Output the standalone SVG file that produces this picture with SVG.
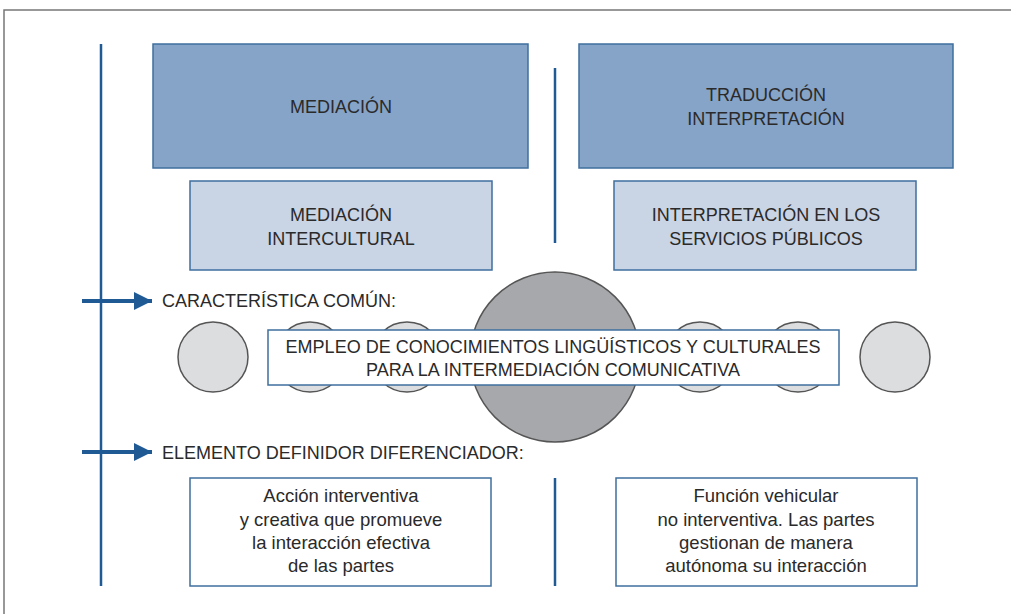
<svg xmlns="http://www.w3.org/2000/svg" width="1011" height="614" viewBox="0 0 1011 614">
<style>
.t{font-family:"Liberation Sans",Arial,sans-serif;font-size:18px;fill:#2a2a2a;text-anchor:middle}
.s{font-size:18.5px}
.l{text-anchor:start}
.dark{fill:#86a4c8;stroke:#3e6f9e;stroke-width:1.5}
.light{fill:#c9d4e5;stroke:#3e6f9e;stroke-width:1.5}
.white{fill:#fff;stroke:#3e6f9e;stroke-width:1.5}
.sc{fill:#dcdddf;stroke:#555;stroke-width:1.5}
.vl{stroke:#1f5a94;stroke-width:2.5}
.ar{stroke:#1f5a94;stroke-width:4}
</style>
<defs>
<marker id="ah" viewBox="0 0 10 10" refX="10" refY="5" markerWidth="5" markerHeight="4.5" markerUnits="strokeWidth" orient="auto"><path d="M0,0 L10,5 L0,10 Z" fill="#1f5a94"/></marker>
</defs>
<rect x="0" y="0" width="1011" height="614" fill="#fff"/>
<rect x="4" y="10" width="1020" height="620" fill="none" stroke="#777" stroke-width="1.5"/>
<g id="connectors">
<line class="vl" x1="101" y1="44" x2="101" y2="586"/>
<line class="vl" x1="555" y1="68" x2="555" y2="243"/>
<line class="vl" x1="555" y1="478" x2="555" y2="586"/>
<line class="ar" x1="82" y1="301" x2="152" y2="301" marker-end="url(#ah)"/>
<line class="ar" x1="82" y1="452" x2="152" y2="452" marker-end="url(#ah)"/>
</g>
<g id="mediacion"><rect class="dark" x="153" y="44" width="375" height="124"/><text class="t" x="341" y="113">MEDIACIÓN</text></g>
<g id="traduccion"><rect class="dark" x="579" y="44" width="374" height="124"/><text class="t" x="766" y="101">TRADUCCIÓN</text><text class="t" x="766" y="125">INTERPRETACIÓN</text></g>
<g id="mediacion-intercultural"><rect class="light" x="190" y="181" width="302" height="89"/><text class="t" x="341" y="221">MEDIACIÓN</text><text class="t" x="341" y="245">INTERCULTURAL</text></g>
<g id="isp"><rect class="light" x="614" y="181" width="302" height="89"/><text class="t" x="766" y="221">INTERPRETACIÓN EN LOS</text><text class="t" x="766" y="245">SERVICIOS PÚBLICOS</text></g>
<g id="label-comun"><text class="t l" x="162" y="307">CARACTERÍSTICA COMÚN:</text></g>
<g id="circles">
<circle class="sc" cx="310" cy="357" r="35"/>
<circle class="sc" cx="407" cy="357" r="35"/>
<circle class="sc" cx="700" cy="357" r="35"/>
<circle class="sc" cx="798" cy="357" r="35"/>
<circle class="sc" cx="213" cy="357" r="35"/>
<circle class="sc" cx="895" cy="357" r="35"/>
<circle cx="555" cy="357" r="85" fill="#a7a8ab" stroke="#555" stroke-width="1.5"/>
</g>
<g id="comun"><rect class="white" x="268" y="330" width="571" height="55"/><text class="t" x="553" y="353">EMPLEO DE CONOCIMIENTOS LINGÜÍSTICOS Y CULTURALES</text><text class="t" x="553" y="376">PARA LA INTERMEDIACIÓN COMUNICATIVA</text></g>
<g id="label-dif"><text class="t l" x="162" y="459">ELEMENTO DEFINIDOR DIFERENCIADOR:</text></g>
<g id="dif-mediacion"><rect class="white" x="190" y="478" width="301" height="108"/>
<text class="t s" x="341" y="502">Acción interventiva</text><text class="t s" x="341" y="526">y creativa que promueve</text><text class="t s" x="341" y="549">la interacción efectiva</text><text class="t s" x="341" y="572">de las partes</text></g>
<g id="dif-isp"><rect class="white" x="616" y="478" width="301" height="108"/>
<text class="t s" x="766" y="502">Función vehicular</text><text class="t s" x="766" y="526">no interventiva. Las partes</text><text class="t s" x="766" y="549">gestionan de manera</text><text class="t s" x="766" y="572">autónoma su interacción</text></g>
</svg>
